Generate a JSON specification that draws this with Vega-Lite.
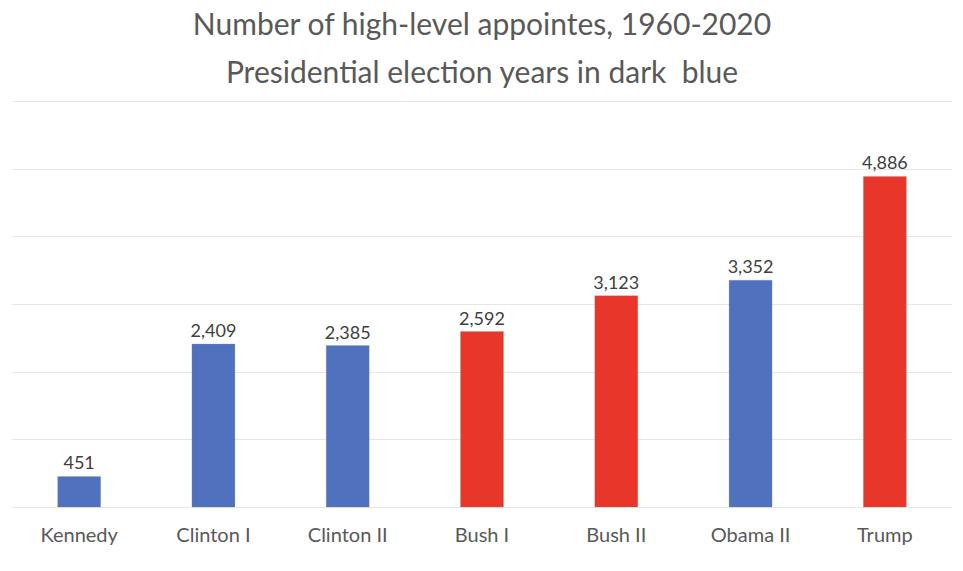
{
  "$schema": "https://vega.github.io/schema/vega-lite/v6.json",
  "width": 940,
  "height": 406,
  "autosize": {"type": "none"},
  "padding": {"left": 12, "top": 101, "right": 11, "bottom": 64},
  "background": "white",
  "title": {
    "text": ["Number of high-level appointes, 1960-2020", "Presidential election years in dark\u00a0 blue"],
    "font": "Lato",
    "fontSize": 30,
    "fontWeight": "normal",
    "color": "#595959",
    "lineHeight": 48,
    "anchor": "middle",
    "offset": 12
  },
  "data": {
    "values": [
      {"name": "Kennedy", "value": 451, "party": "D"},
      {"name": "Clinton I", "value": 2409, "party": "D"},
      {"name": "Clinton II", "value": 2385, "party": "D"},
      {"name": "Bush I", "value": 2592, "party": "R"},
      {"name": "Bush II", "value": 3123, "party": "R"},
      {"name": "Obama II", "value": 3352, "party": "D"},
      {"name": "Trump", "value": 4886, "party": "R"}
    ]
  },
  "encoding": {
    "x": {
      "field": "name",
      "type": "nominal",
      "sort": null,
      "scale": {"paddingInner": 0.68, "paddingOuter": 0.34},
      "axis": {
        "title": null,
        "labelAngle": 0,
        "labelFont": "Lato",
        "labelFontSize": 20,
        "labelColor": "#595959",
        "labelPadding": 18,
        "ticks": false,
        "domain": false,
        "grid": false
      }
    },
    "y": {
      "field": "value",
      "type": "quantitative",
      "scale": {"domain": [0, 6000]},
      "axis": {
        "title": null,
        "labels": false,
        "ticks": false,
        "domain": false,
        "values": [0, 1000, 2000, 3000, 4000, 5000, 6000],
        "gridColor": "#E6E6E6",
        "gridWidth": 1
      }
    }
  },
  "layer": [
    {
      "mark": {"type": "bar", "stroke": "#8C8C8C", "strokeWidth": 0.5, "strokeOpacity": 0.5},
      "encoding": {
        "color": {
          "field": "party",
          "type": "nominal",
          "scale": {"domain": ["D", "R"], "range": ["#4F71BE", "#E8362A"]},
          "legend": null
        }
      }
    },
    {
      "mark": {"type": "text", "baseline": "bottom", "dy": -3, "font": "Lato", "fontSize": 18, "color": "#404040"},
      "encoding": {
        "text": {"field": "value", "type": "quantitative", "format": ","}
      }
    }
  ],
  "config": {"view": {"stroke": null}}
}
